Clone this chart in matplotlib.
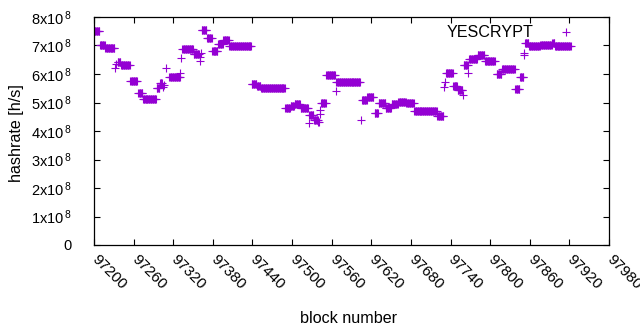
import numpy as np
import matplotlib
matplotlib.use("Agg")
import matplotlib.pyplot as plt

plt.rcParams['font.family'] = ['Liberation Sans', 'DejaVu Sans']
plt.rcParams['mathtext.fontset'] = 'custom'
plt.rcParams['mathtext.rm'] = 'Liberation Sans'
plt.rcParams['mathtext.it'] = 'Liberation Sans'

# piecewise-constant hashrate readings: first block, last block, value (x1e8 h/s)
seg_start = [97200, 97209, 97217, 97232, 97234, 97236, 97241, 97255, 97267, 97274,
             97295, 97300, 97304, 97306, 97309, 97314, 97331, 97332, 97334, 97351,
             97360, 97361, 97362, 97363, 97371, 97379, 97388, 97396, 97405, 97439,
             97447, 97453, 97490, 97498, 97504, 97513, 97525, 97526, 97533, 97540,
             97542, 97543, 97544, 97552, 97566, 97567, 97604, 97606, 97614, 97625,
             97631, 97642, 97651, 97661, 97673, 97685, 97720, 97730, 97731, 97733,
             97744, 97751, 97759, 97760, 97767, 97768, 97781, 97792, 97810, 97818,
             97838, 97845, 97851, 97852, 97853, 97859, 97876, 97894, 97898]
seg_end = [97208, 97216, 97231, 97232, 97234, 97240, 97254, 97265, 97273, 97294,
           97299, 97303, 97304, 97306, 97309, 97330, 97331, 97332, 97350, 97359,
           97360, 97361, 97362, 97370, 97378, 97387, 97395, 97404, 97438, 97446,
           97452, 97489, 97497, 97503, 97512, 97524, 97525, 97532, 97539, 97541,
           97542, 97543, 97551, 97565, 97566, 97603, 97604, 97613, 97623, 97630,
           97641, 97650, 97660, 97672, 97684, 97719, 97729, 97730, 97731, 97743,
           97750, 97758, 97759, 97766, 97767, 97780, 97791, 97807, 97817, 97837,
           97844, 97850, 97851, 97852, 97858, 97875, 97893, 97897, 97922]
seg_value = [7.50, 7.02, 6.92, 6.22, 6.35, 6.43, 6.32, 5.74, 5.33, 5.12,
             5.51, 5.70, 5.55, 5.60, 6.22, 5.90, 6.02, 6.55, 6.87, 6.69,
             6.60, 6.45, 6.75, 7.54, 7.25, 6.80, 7.06, 7.18, 6.97, 5.65,
             5.58, 5.52, 4.80, 4.86, 4.95, 4.80, 4.27, 4.56, 4.40, 4.32,
             4.60, 4.75, 4.97, 5.97, 5.41, 5.72, 4.39, 5.10, 5.19, 4.62,
             5.00, 4.80, 4.95, 5.03, 5.00, 4.71, 4.52, 5.55, 5.73, 6.02,
             5.58, 5.44, 5.26, 6.32, 6.02, 6.51, 6.68, 6.47, 5.99, 6.16,
             5.46, 5.91, 6.67, 6.73, 7.08, 6.98, 7.03, 7.10, 6.98]

x_ticks = [97200, 97260, 97320, 97380, 97440, 97500, 97560, 97620, 97680,
           97740, 97800, 97860, 97920, 97980]
y_ticks = [0, 1e8, 2e8, 3e8, 4e8, 5e8, 6e8, 7e8, 8e8]
y_tick_labels = ['0'] + [r'%dx10$^{\,8}$' % k for k in range(1, 9)]

blocks = np.concatenate([np.arange(s, e + 1) for s, e in zip(seg_start, seg_end)])
rates = np.concatenate([np.full(e - s + 1, v * 1e8) for s, e, v in zip(seg_start, seg_end, seg_value)])

fig = plt.figure(figsize=(6.4, 3.3), dpi=100)
ax = fig.add_axes([94/640, 1 - 245/330, (609-94)/640, (245-17)/330])

color = '#9400D3'
ax.plot(blocks, rates, linestyle='none', marker='+', markersize=5.2,
        markeredgewidth=0.8, color=color, label='YESCRYPT')

ax.set_xlim(97200, 97980)
ax.set_ylim(0, 8e8)
ax.set_xticks(x_ticks)
ax.set_xticklabels([str(t) for t in x_ticks], rotation=-45, ha='left', va='center',
                   rotation_mode='anchor', fontsize=11)
ax.set_yticks(y_ticks)
ax.set_yticklabels(y_tick_labels, fontsize=10.5)
ax.tick_params(direction='in', length=4, width=0.8, top=True, right=True)
ax.tick_params(axis='y', pad=16)
ax.tick_params(axis='x', pad=9)
for sp in ax.spines.values():
    sp.set_linewidth(0.9)

ax.set_xlabel('block number', fontsize=11.6)
ax.xaxis.set_label_coords(0.495, -0.29)
fig.text(17/640, 1 - 133/330, 'hashrate [h/s]', rotation=90, ha='center', va='center',
         fontsize=11.6)

leg = ax.legend(loc='upper right', frameon=False, markerfirst=False, fontsize=11.6,
                handlelength=2.0, handletextpad=1.0, borderaxespad=0.3,
                bbox_to_anchor=(0.97, 1.013))

fig.savefig('out.png', dpi=100)
